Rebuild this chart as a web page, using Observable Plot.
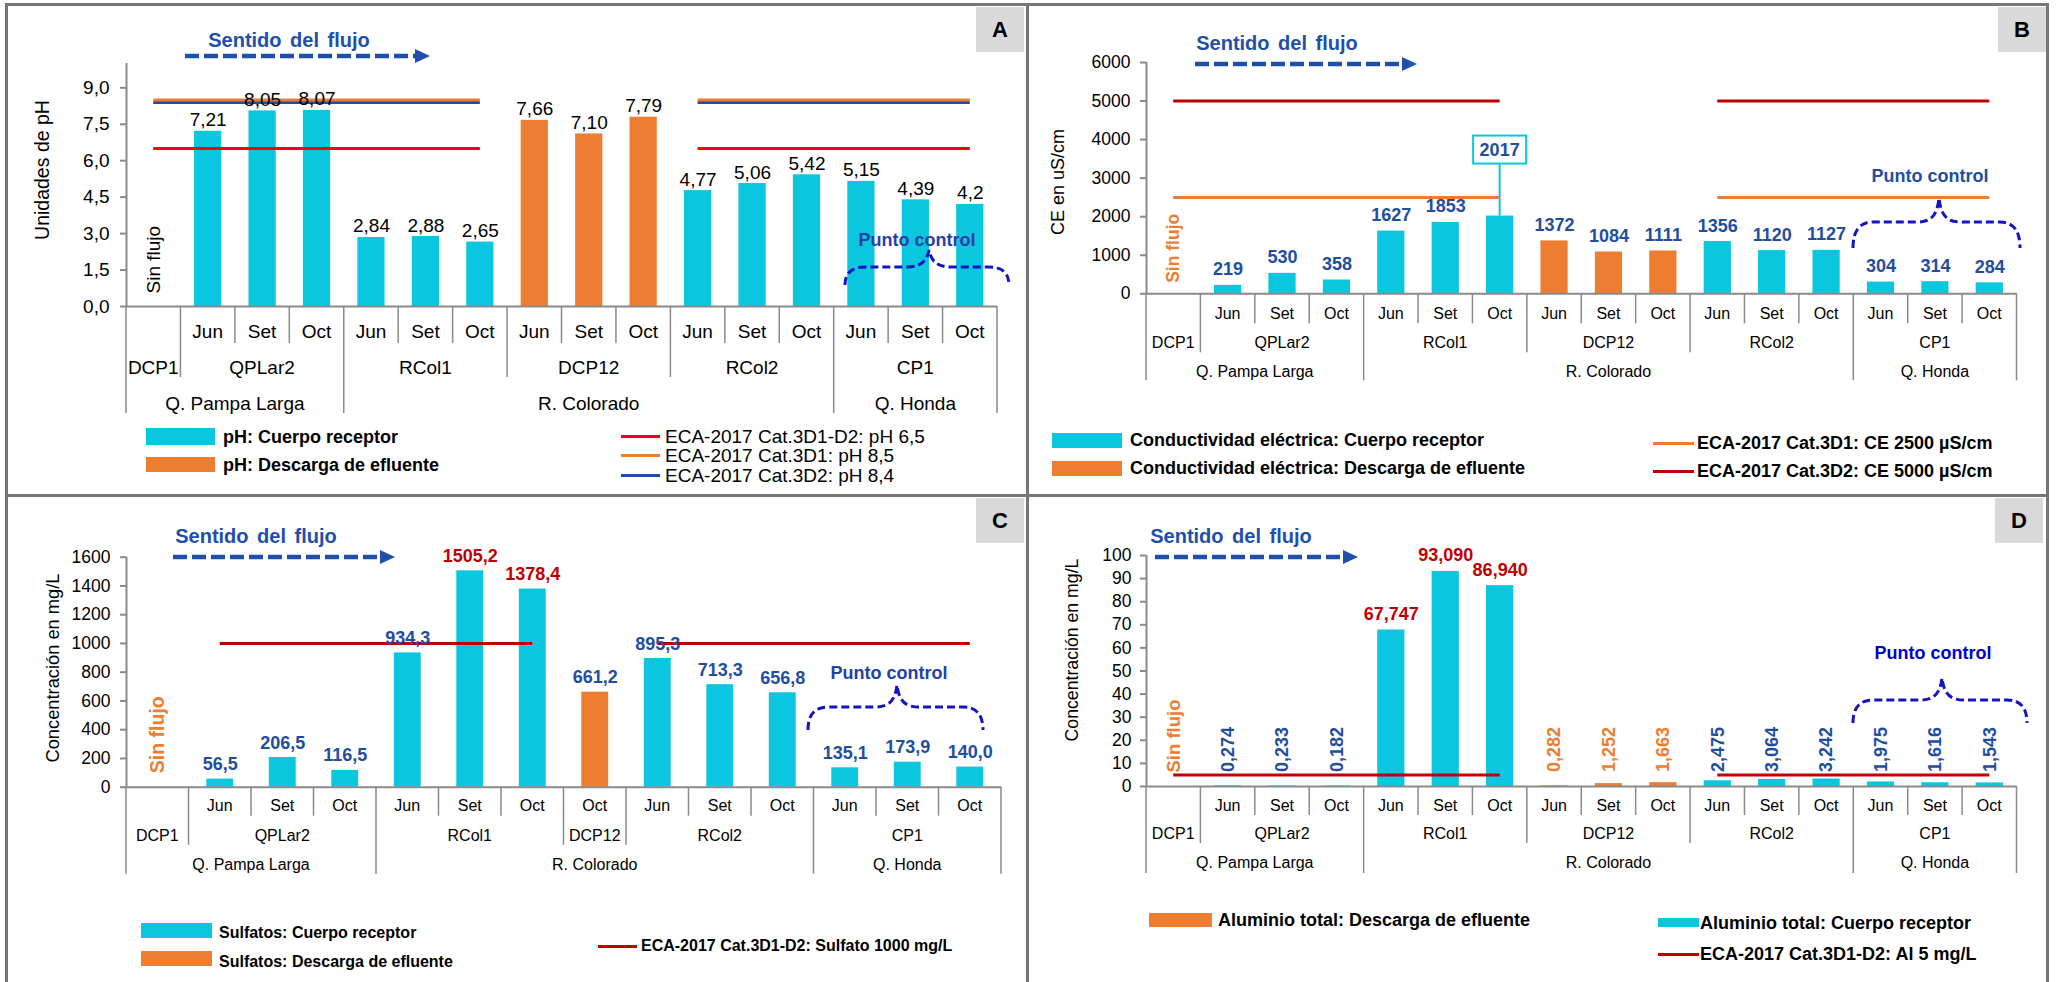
<!DOCTYPE html>
<html>
<head>
<meta charset="utf-8">
<script src="https://cdn.jsdelivr.net/npm/d3@7"></script>
<script src="https://cdn.jsdelivr.net/npm/@observablehq/plot@0.6"></script>
<style>
  html, body { margin: 0; padding: 0; background: #fff; }
  body { width: 2058px; height: 982px; position: relative; overflow: hidden;
         font-family: "Liberation Sans", Arial, Helvetica, sans-serif; }
  .panel { position: absolute; }
  .panel svg { position: absolute; left: 0; top: 0; max-width: none; }
  .sw { position: absolute; }
  .lg { position: absolute; white-space: nowrap; line-height: 1; color: #000; transform: translateY(-50%); }
  .tag { position: absolute; background: #d9d9d9; font-weight: bold; font-size: 22px; color: #000;
         display: flex; align-items: center; justify-content: center; }
  .frame { position: absolute; background: #767676; z-index: 5; }
</style>
</head>
<body>
<script>
const FONT = '"Liberation Sans", Arial, Helvetica, sans-serif';
const COL = {
  cyan: "#0AC6DE", orange: "#ED7D31", red: "#FF0000", darkred: "#C00000", navy: "#1F4E9F",
  label: "#1F4E9F", flow: "#1F4FAA", brace: "#1414C4", grid: "#8A8A8A"
};

// Category axis: station, sampling month and stream of each slot
const stations = ["DCP1", "QPLar2", "QPLar2", "QPLar2", "RCol1", "RCol1", "RCol1", "DCP12", "DCP12", "DCP12",
                  "RCol2", "RCol2", "RCol2", "CP1", "CP1", "CP1"];
const months = ["", "Jun", "Set", "Oct", "Jun", "Set", "Oct", "Jun", "Set", "Oct", "Jun", "Set", "Oct", "Jun", "Set", "Oct"];
const rivers = ["Q. Pampa Larga", "Q. Pampa Larga", "Q. Pampa Larga", "Q. Pampa Larga",
                "R. Colorado", "R. Colorado", "R. Colorado", "R. Colorado", "R. Colorado", "R. Colorado",
                "R. Colorado", "R. Colorado", "R. Colorado", "Q. Honda", "Q. Honda", "Q. Honda"];

// Sulfates at DCP12 were only sampled in October
const stationsSO4 = ["DCP1", "QPLar2", "QPLar2", "QPLar2", "RCol1", "RCol1", "RCol1", "DCP12",
                     "RCol2", "RCol2", "RCol2", "CP1", "CP1", "CP1"];
const monthsSO4 = ["", "Jun", "Set", "Oct", "Jun", "Set", "Oct", "Oct", "Jun", "Set", "Oct", "Jun", "Set", "Oct"];
const riversSO4 = ["Q. Pampa Larga", "Q. Pampa Larga", "Q. Pampa Larga", "Q. Pampa Larga",
                   "R. Colorado", "R. Colorado", "R. Colorado", "R. Colorado", "R. Colorado", "R. Colorado",
                   "R. Colorado", "Q. Honda", "Q. Honda", "Q. Honda"];

const effluentStations = ["DCP1", "DCP12"];

// Measurements (DCP1 had no flow)
const phLabels = ["", "7,21", "8,05", "8,07", "2,84", "2,88", "2,65", "7,66", "7,10", "7,79",
                  "4,77", "5,06", "5,42", "5,15", "4,39", "4,2"];
const phValues = phLabels.map(s => s === "" ? null : +s.replace(",", "."));
const ceValues = [null, 219, 530, 358, 1627, 1853, 2017, 1372, 1084, 1111, 1356, 1120, 1127, 304, 314, 284];
const so4Values = [null, 56.5, 206.5, 116.5, 934.3, 1505.2, 1378.4, 661.2, 895.3, 713.3, 656.8, 135.1, 173.9, 140.0];
const alValues = [null, 0.274, 0.233, 0.182, 67.747, 93.090, 86.940, 0.282, 1.252, 1.663,
                  2.475, 3.064, 3.242, 1.975, 1.616, 1.543];

// Water quality standards (ECA-2017)
const phLimits = [
  {label: "ECA-2017 Cat.3D1-D2: pH 6,5", value: 6.5},
  {label: "ECA-2017 Cat.3D2: pH 8,4", value: 8.4},
  {label: "ECA-2017 Cat.3D1: pH 8,5", value: 8.5}
];
const ceLimits = [
  {label: "ECA-2017 Cat.3D1: CE 2500 µS/cm", value: 2500},
  {label: "ECA-2017 Cat.3D2: CE 5000 µS/cm", value: 5000}
];
const so4Limits = [{label: "ECA-2017 Cat.3D1-D2: Sulfato 1000 mg/L", value: 1000}];
const alLimits = [{label: "ECA-2017 Cat.3D1-D2: Al 5 mg/L", value: 5}];

// Y-axis ticks
const phTicks = [0, 1.5, 3, 4.5, 6, 7.5, 9];
const ceTicks = [0, 1000, 2000, 3000, 4000, 5000, 6000];
const so4Ticks = [0, 200, 400, 600, 800, 1000, 1200, 1400, 1600];
const alTicks = [0, 10, 20, 30, 40, 50, 60, 70, 80, 90, 100];

const comma = (v, d) => v.toFixed(d).replace(".", ",");

// ---------- helper marks ----------
function categoryAxis(st, mo, rv, t) {
  return (index, scales, values, dims) => {
    const x = scales.x;
    const y0 = dims.height - dims.marginBottom;
    const g = d3.create("svg:g").attr("font-size", t.font).attr("fill", "#000").attr("text-anchor", "middle");
    const n = st.length;
    for (let i = 0; i <= n; i++) {
      const level = (i === 0 || i === n || rv[i] !== rv[i - 1]) ? 2 : (st[i] !== st[i - 1] ? 1 : 0);
      g.append("line").attr("x1", x(i)).attr("x2", x(i)).attr("y1", y0).attr("y2", y0 + t.sep[level])
        .attr("stroke", COL.grid).attr("stroke-width", 1.5);
    }
    const runs = arr => {
      const out = [];
      arr.forEach((k, i) => {
        if (i && arr[i - 1] === k) out[out.length - 1].end = i + 1;
        else out.push({k, start: i, end: i + 1});
      });
      return out;
    };
    mo.forEach((m, i) => {
      if (m) g.append("text").attr("x", x(i + 0.5)).attr("y", y0 + t.text[0]).attr("dy", "0.35em").text(m);
    });
    runs(st).forEach(r => g.append("text").attr("x", x((r.start + r.end) / 2)).attr("y", y0 + t.text[1])
      .attr("dy", "0.35em").text(r.k));
    runs(rv).forEach(r => g.append("text").attr("x", x((r.start + r.end) / 2)).attr("y", y0 + t.text[2])
      .attr("dy", "0.35em").text(r.k));
    return g.node();
  };
}

function yTitle(c) {
  return () => {
    const g = d3.create("svg:g");
    g.append("text").attr("transform", `translate(${c.x},${c.y}) rotate(-90)`)
      .attr("text-anchor", "middle").attr("dy", "0.35em").attr("font-size", c.size).attr("fill", "#000")
      .text(c.text);
    return g.node();
  };
}

function flowArrow(c) {
  return () => {
    const g = d3.create("svg:g");
    g.append("text").attr("x", c.tx).attr("y", c.ty).attr("text-anchor", "middle")
      .attr("font-weight", "bold").attr("font-size", 20).attr("word-spacing", "3px")
      .attr("fill", COL.flow).text("Sentido del flujo");
    g.append("line").attr("x1", c.x0).attr("x2", c.x1 - 14).attr("y1", c.y).attr("y2", c.y)
      .attr("stroke", COL.flow).attr("stroke-width", 4.5).attr("stroke-dasharray", "14 5");
    g.append("path").attr("d", `M${c.x1 - 15},${c.y - 7}L${c.x1},${c.y}L${c.x1 - 15},${c.y + 7}Z`)
      .attr("fill", COL.flow);
    return g.node();
  };
}

function brace(c) {
  return () => {
    const r = 20, r2 = 22;
    const d = `M${c.x0},${c.yb} Q${c.x0},${c.yf} ${c.x0 + r},${c.yf} L${c.xm - r2},${c.yf} ` +
      `C${c.xm - 8},${c.yf} ${c.xm - 2},${c.yf - 6} ${c.xm},${c.yp} ` +
      `C${c.xm + 2},${c.yf - 6} ${c.xm + 8},${c.yf} ${c.xm + r2},${c.yf} ` +
      `L${c.x1 - r},${c.yf} Q${c.x1},${c.yf} ${c.x1},${c.yb}`;
    const g = d3.create("svg:g");
    g.append("path").attr("d", d).attr("fill", "none").attr("stroke", COL.brace)
      .attr("stroke-width", 3).attr("stroke-dasharray", "8 4");
    g.append("text").attr("x", c.tx).attr("y", c.ty).attr("dy", "0.35em").attr("text-anchor", "middle")
      .attr("font-weight", "bold").attr("font-size", 18).attr("fill", c.color).text("Punto control");
    return g.node();
  };
}

// Boxed value label with a leader line down to its bar
function callout(row) {
  return (index, scales) => {
    const cx = scales.x(row.i + 0.5), top = scales.y(row.value);
    const bw = 53, bh = 28, lift = 52;
    const g = d3.create("svg:g");
    g.append("line").attr("x1", cx).attr("x2", cx).attr("y1", top).attr("y2", top - lift)
      .attr("stroke", COL.cyan).attr("stroke-width", 2);
    g.append("rect").attr("x", cx - bw / 2).attr("y", top - lift - bh).attr("width", bw).attr("height", bh)
      .attr("fill", "#fff").attr("stroke", COL.cyan).attr("stroke-width", 2);
    g.append("text").attr("x", cx).attr("y", top - lift - bh / 2).attr("dy", "0.35em").attr("text-anchor", "middle")
      .attr("font-weight", "bold").attr("font-size", 18).attr("fill", COL.label).text(row.label);
    return g.node();
  };
}

// ---------- panel builder ----------
function buildPanel(p) {
  const host = document.createElement("div");
  host.className = "panel";
  Object.assign(host.style, {left: p.left + "px", top: p.top + "px", width: p.w + "px", height: p.h + "px"});
  document.body.appendChild(host);

  const n = p.stations.length;
  const rows = p.stations.map((s, i) => ({
    i, station: s, month: p.months[i], river: p.rivers[i], value: p.values[i],
    label: p.values[i] == null ? "" : p.format(i),
    effluent: effluentStations.includes(s)
  }));
  const measured = rows.filter(d => d.value != null);
  const dry = rows.filter(d => d.value == null);

  const segs = [];
  p.limits.forEach((l, k) => p.spans.forEach(([a, b]) => segs.push({
    value: l.value, color: p.limitColors[k],
    x1: p.stations.indexOf(a) + 0.5, x2: p.stations.lastIndexOf(b) + 0.5
  })));

  const svg = Plot.plot({
    width: p.w, height: p.h,
    marginLeft: p.ml, marginRight: p.mr, marginTop: p.mt, marginBottom: p.mb,
    style: {fontFamily: FONT, fontSize: p.tickFont + "px", background: "transparent", maxWidth: "none", overflow: "visible"},
    x: {type: "linear", domain: [0, n], axis: null},
    y: {domain: p.yDomain},
    color: {type: "identity"},
    marks: [
      Plot.rect(measured, {
        x1: d => d.i + p.inset, x2: d => d.i + 1 - p.inset, y1: () => 0, y2: "value",
        fill: d => d.effluent ? COL.orange : COL.cyan
      }),
      Plot.ruleY([0], {stroke: COL.grid, strokeWidth: 2}),
      Plot.ruleX([0], {y1: () => p.yDomain[0], y2: () => p.yDomain[1], stroke: COL.grid, strokeWidth: 2}),
      Plot.axisY({
        ticks: p.ticks, tickFormat: p.tickFormat, tickSize: 6, tickPadding: p.tickPadding,
        stroke: COL.grid, strokeWidth: 2, fill: "#000", fontSize: p.tickFont, label: null
      }),
      Plot.ruleY(segs, {y: "value", x1: "x1", x2: "x2", stroke: "color", strokeWidth: 3}),
      ...p.labelMarks(measured),
      Plot.text(dry, {
        x: d => d.i + 0.5, y: () => 0, text: () => "Sin flujo", rotate: -90, textAnchor: "start",
        dy: -p.dry.offset, fill: p.dry.color, fontWeight: p.dry.weight, fontSize: p.dry.size
      }),
      categoryAxis(p.stations, p.months, p.rivers, p.table),
      yTitle(p.yTitle),
      flowArrow(p.flow),
      brace(p.brace),
      ...(p.extra ? p.extra(measured) : [])
    ]
  });
  host.appendChild(svg);

  // legend
  for (const it of p.legend) {
    const s = document.createElement("div");
    s.className = "sw";
    const isLine = it.kind === "line";
    Object.assign(s.style, {
      left: it.sx + "px", top: (isLine ? it.sy - 1.5 : it.sy) + "px", width: it.sw + "px",
      height: (isLine ? 3 : it.sh) + "px", background: it.color
    });
    host.appendChild(s);
    const t = document.createElement("div");
    t.className = "lg";
    t.textContent = it.text;
    Object.assign(t.style, {left: it.tx + "px", top: it.ty + "px", fontSize: it.size + "px",
      fontWeight: it.bold ? "bold" : "normal"});
    host.appendChild(t);
  }

  // panel letter
  const tag = document.createElement("div");
  tag.className = "tag";
  tag.textContent = p.key;
  Object.assign(tag.style, {left: p.tag.x + "px", top: p.tag.y + "px", width: "48px", height: "45px"});
  host.appendChild(tag);
}

// ---------- panels ----------
const panels = [
  {
    key: "A", left: 0, top: 0, w: 1026, h: 495, ml: 126, mr: 29, mt: 63, mb: 189,
    stations, months, rivers, values: phValues, format: i => phLabels[i],
    yDomain: [0, 10], ticks: phTicks, tickFormat: d => comma(d, 1), tickFont: 19, tickPadding: 11, inset: 0.25,
    limits: phLimits, limitColors: [COL.red, COL.navy, COL.orange], spans: [["DCP1", "RCol1"], ["RCol2", "CP1"]],
    labelMarks: m => [Plot.text(m, {x: d => d.i + 0.5, y: "value", text: "label", lineAnchor: "bottom", dy: -5,
      fill: "#000", fontSize: 19})],
    dry: {offset: 13, color: "#000", weight: "normal", size: 19},
    table: {font: 19, text: [25, 61, 97], sep: [37, 71, 107]},
    yTitle: {text: "Unidades de pH", x: 42, y: 170, size: 19.5},
    flow: {tx: 289, ty: 47, x0: 185, x1: 430, y: 56},
    brace: {tx: 917, ty: 240, x0: 845, x1: 1009, yf: 267, yb: 285, xm: 929, yp: 250, color: "#2A3EA5"},
    tag: {x: 976, y: 7},
    legend: [
      {kind: "box", sx: 146, sy: 428, sw: 69, sh: 17, color: COL.cyan, tx: 223, ty: 437, text: "pH: Cuerpo receptor", size: 18, bold: true},
      {kind: "box", sx: 146, sy: 457, sw: 69, sh: 15, color: COL.orange, tx: 223, ty: 465, text: "pH: Descarga de efluente", size: 18, bold: true},
      {kind: "line", sx: 621, sy: 436, sw: 39, color: COL.red, tx: 665, ty: 436, text: phLimits[0].label, size: 19},
      {kind: "line", sx: 621, sy: 455, sw: 39, color: COL.orange, tx: 665, ty: 455, text: phLimits[2].label, size: 19},
      {kind: "line", sx: 621, sy: 475, sw: 39, color: COL.navy, tx: 665, ty: 475, text: phLimits[1].label, size: 19}
    ]
  },
  {
    key: "B", left: 1027, top: 0, w: 1031, h: 495, ml: 119, mr: 41.5, mt: 62, mb: 201.7,
    stations, months, rivers, values: ceValues, format: i => String(ceValues[i]),
    yDomain: [0, 6000], ticks: ceTicks, tickFormat: d => String(d), tickFont: 17.5, tickPadding: 10, inset: 0.25,
    limits: ceLimits, limitColors: [COL.orange, COL.darkred], spans: [["DCP1", "RCol1"], ["RCol2", "CP1"]],
    labelMarks: m => [Plot.text(m.filter(d => !(d.station === "RCol1" && d.month === "Oct")), {
      x: d => d.i + 0.5, y: "value", text: "label", lineAnchor: "bottom", dy: -10,
      fill: COL.label, fontWeight: "bold", fontSize: 18})],
    extra: m => m.filter(d => d.station === "RCol1" && d.month === "Oct").map(callout),
    dry: {offset: 11, color: COL.orange, weight: "bold", size: 17.5},
    table: {font: 16, text: [20, 49, 78], sep: [30, 59, 87]},
    yTitle: {text: "CE en uS/cm", x: 31, y: 182, size: 18},
    flow: {tx: 250, ty: 50, x0: 168, x1: 390, y: 64},
    brace: {tx: 903, ty: 176, x0: 826, x1: 993, yf: 222, yb: 248, xm: 912, yp: 198, color: COL.label},
    tag: {x: 971, y: 7},
    legend: [
      {kind: "box", sx: 25, sy: 433, sw: 70, sh: 15, color: COL.cyan, tx: 103, ty: 440, text: "Conductividad eléctrica: Cuerpo receptor", size: 18, bold: true},
      {kind: "box", sx: 25, sy: 461, sw: 70, sh: 15, color: COL.orange, tx: 103, ty: 468, text: "Conductividad eléctrica: Descarga de efluente", size: 18, bold: true},
      {kind: "line", sx: 626, sy: 443, sw: 41, color: COL.orange, tx: 670, ty: 443, text: ceLimits[0].label, size: 18, bold: true},
      {kind: "line", sx: 626, sy: 471, sw: 41, color: COL.darkred, tx: 670, ty: 471, text: ceLimits[1].label, size: 18, bold: true}
    ]
  },
  {
    key: "C", left: 0, top: 495, w: 1026, h: 487, ml: 126, mr: 25, mt: 61.7, mb: 195.3,
    stations: stationsSO4, months: monthsSO4, rivers: riversSO4, values: so4Values, format: i => comma(so4Values[i], 1),
    yDomain: [0, 1600], ticks: so4Ticks, tickFormat: d => String(d), tickFont: 17.5, tickPadding: 10, inset: 0.285,
    limits: so4Limits, limitColors: [COL.darkred], spans: [["QPLar2", "RCol1"], ["RCol2", "CP1"]],
    labelMarks: m => [Plot.text(m, {x: d => d.i + 0.5, y: "value", text: "label", lineAnchor: "bottom", dy: -9,
      fill: d => d.value > so4Limits[0].value ? COL.darkred : COL.label, fontWeight: "bold", fontSize: 18})],
    dry: {offset: 14, color: COL.orange, weight: "bold", size: 19.5},
    table: {font: 16, text: [19, 49, 78], sep: [29, 58, 87]},
    yTitle: {text: "Concentración en mg/L", x: 53, y: 173, size: 18.3},
    flow: {tx: 256, ty: 48, x0: 173, x1: 395, y: 62},
    brace: {tx: 889, ty: 178, x0: 808, x1: 983, yf: 212, yb: 235, xm: 897, yp: 190, color: "#2340A8"},
    tag: {x: 976, y: 3},
    legend: [
      {kind: "box", sx: 141, sy: 428, sw: 71, sh: 15, color: COL.cyan, tx: 219, ty: 438, text: "Sulfatos: Cuerpo receptor", size: 16, bold: true},
      {kind: "box", sx: 141, sy: 456, sw: 71, sh: 15, color: COL.orange, tx: 219, ty: 467, text: "Sulfatos: Descarga de efluente", size: 16, bold: true},
      {kind: "line", sx: 598, sy: 451, sw: 39, color: COL.darkred, tx: 641, ty: 451, text: so4Limits[0].label, size: 16, bold: true}
    ]
  },
  {
    key: "D", left: 1027, top: 495, w: 1031, h: 487, ml: 119, mr: 41.5, mt: 60, mb: 196,
    stations, months, rivers, values: alValues, format: i => comma(alValues[i], 3),
    yDomain: [0, 100], ticks: alTicks, tickFormat: d => String(d), tickFont: 17.5, tickPadding: 9, inset: 0.25,
    limits: alLimits, limitColors: [COL.darkred], spans: [["DCP1", "RCol1"], ["RCol2", "CP1"]],
    labelMarks: m => [
      Plot.text(m.filter(d => d.value > alLimits[0].value), {x: d => d.i + 0.5, y: "value", text: "label",
        lineAnchor: "bottom", dy: -10, fill: COL.darkred, fontWeight: "bold", fontSize: 18}),
      Plot.text(m.filter(d => d.value <= alLimits[0].value), {x: d => d.i + 0.5, y: () => alLimits[0].value,
        text: "label", rotate: -90, textAnchor: "start", dy: -3,
        fill: d => d.effluent ? COL.orange : COL.label, fontWeight: "bold", fontSize: 18})
    ],
    dry: {offset: 14, color: COL.orange, weight: "bold", size: 18.5},
    table: {font: 16, text: [19, 47, 76], sep: [29, 57, 87]},
    yTitle: {text: "Concentración en mg/L", x: 45, y: 155, size: 17.7},
    flow: {tx: 204, ty: 48, x0: 128, x1: 331, y: 62},
    brace: {tx: 906, ty: 158, x0: 826, x1: 1000, yf: 205, yb: 228, xm: 915, yp: 183, color: "#0000CC"},
    tag: {x: 968, y: 3},
    legend: [
      {kind: "box", sx: 122, sy: 418, sw: 63, sh: 14, color: COL.orange, tx: 191, ty: 425, text: "Aluminio total: Descarga de efluente", size: 18, bold: true},
      {kind: "box", sx: 631, sy: 423, sw: 41, sh: 9, color: COL.cyan, tx: 673, ty: 428, text: "Aluminio total: Cuerpo receptor", size: 18, bold: true},
      {kind: "line", sx: 631, sy: 459, sw: 41, color: COL.darkred, tx: 673, ty: 459, text: alLimits[0].label, size: 18, bold: true}
    ]
  }
];

panels.forEach(buildPanel);

// outer frame and dividers between the four panels
[
  {l: 5, t: 3, w: 2044, h: 3},
  {l: 5, t: 3, w: 3, h: 979},
  {l: 2046, t: 3, w: 3, h: 979},
  {l: 1026, t: 3, w: 3, h: 979},
  {l: 5, t: 494, w: 2044, h: 3}
].forEach(f => {
  const d = document.createElement("div");
  d.className = "frame";
  Object.assign(d.style, {left: f.l + "px", top: f.t + "px", width: f.w + "px", height: f.h + "px"});
  document.body.appendChild(d);
});
</script>
</body>
</html>
